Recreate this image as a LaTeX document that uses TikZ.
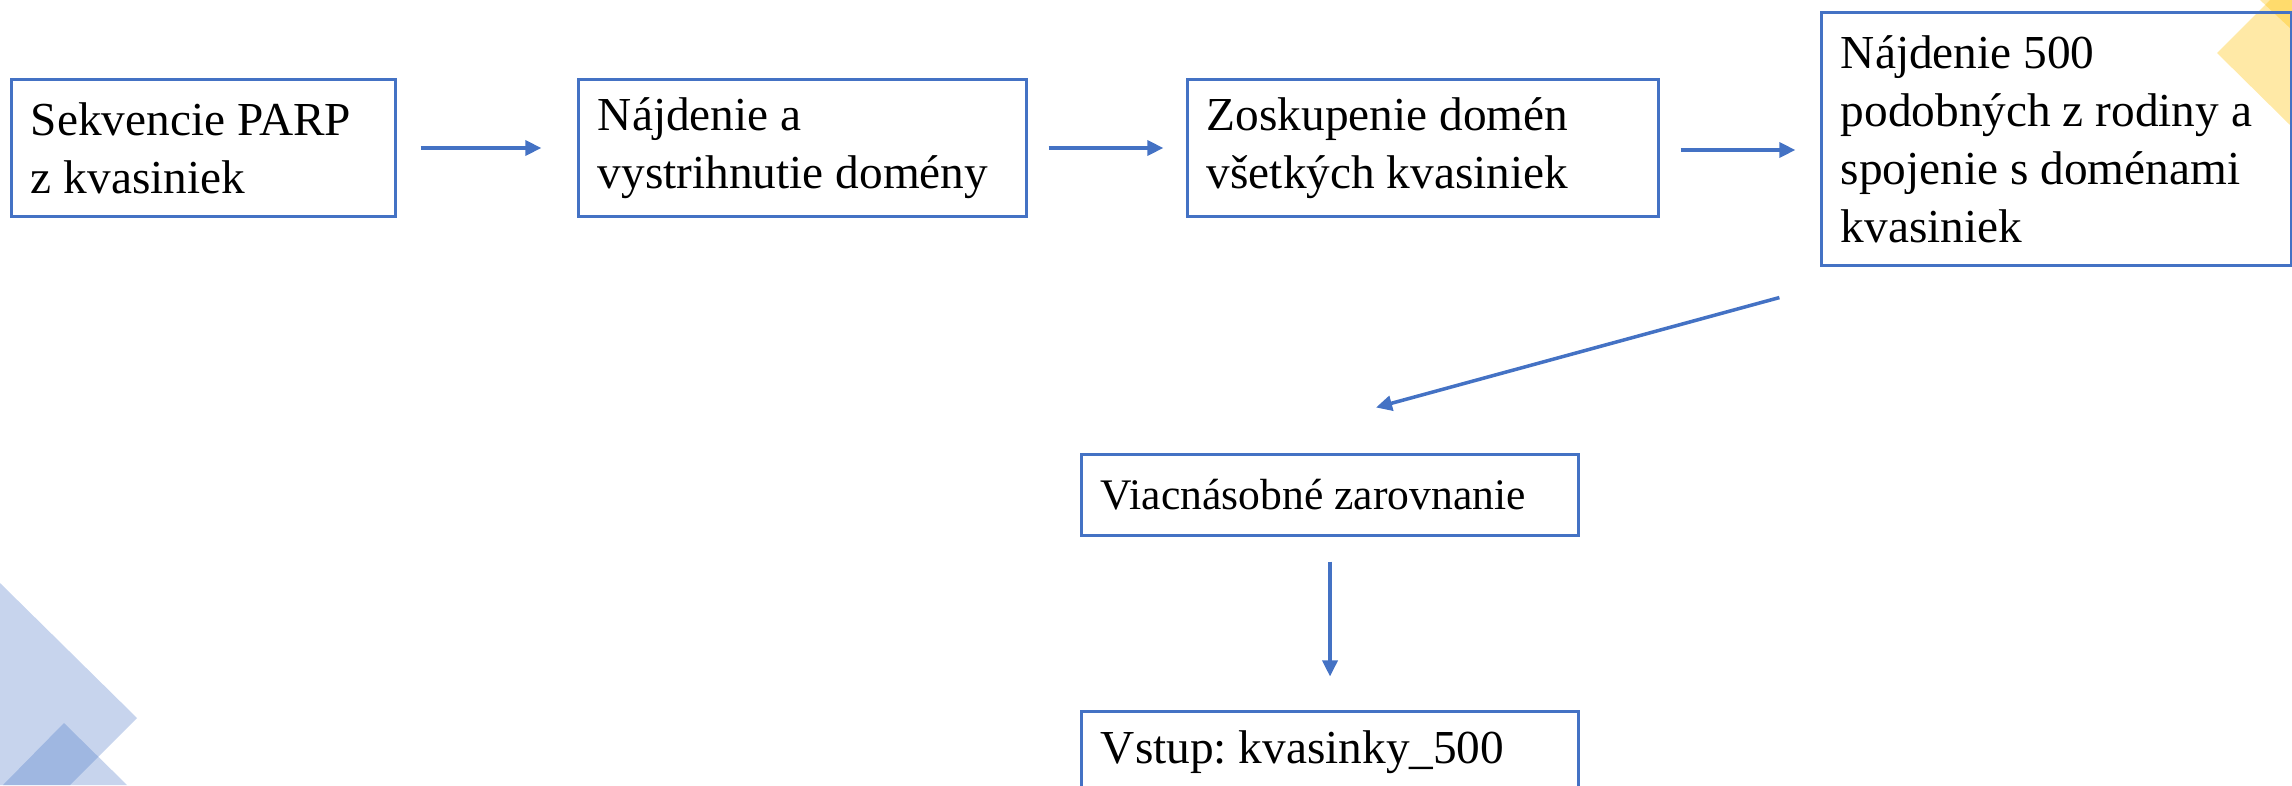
\documentclass[tikz,border=0pt]{standalone}
\usepackage{fontspec}
\setmainfont{Liberation Serif}
\usepackage{tikz}
\usetikzlibrary{arrows.meta,positioning}
\definecolor{ublue}{HTML}{4472C4}
\definecolor{ugold}{HTML}{FFC000}
\frenchspacing
\tikzset{
  box/.style={draw=ublue, line width=0.85pt, align=flush left, inner xsep=0.19cm,
              inner ysep=0pt, font=\fontsize{13.45}{16.5}\selectfont},
  arrow/.style={-{Triangle[length=0.16cm,width=0.15cm]}, line width=1pt, draw=ublue},
  corner/.style={fill=ublue, fill opacity=0.3, draw=none},
  cornerw/.style={fill=ugold, fill opacity=0.35, draw=none}
}
\begin{document}
\begin{tikzpicture}[x=0.01cm,y=-0.01cm]
  \useasboundingbox (0,0) rectangle (2292,785);
  % corner decoration
  \fill[corner] (0,583) -- (137,718) -- (70,785) -- (0,785) -- cycle;
  \fill[corner] (64,723) -- (127,785) -- (3,785) -- cycle;
  \fill[cornerw] (2217,53) -- (2270,0) -- (2292,0) -- (2292,127) -- cycle;
  \fill[cornerw] (2260,0) -- (2292,0) -- (2292,30) -- cycle;

  % steps
  \node[box, text width=3.45cm, minimum height=1.36cm] (seq) at (203.5,148)
    {Sekvencie PARP\\z kvasiniek};
  \node[box, text width=4.09cm, minimum height=1.36cm] (cut) at (802.5,148)
    {Nájdenie a\\vystrihnutie domény};
  \node[box, text width=4.32cm, minimum height=1.36cm] (grp) at (1423,148)
    {Zoskupenie domén\\všetkých kvasiniek};
  \node[box, text width=4.31cm, minimum height=2.52cm] (fam) at (2056.5,139)
    {Nájdenie 500\\podobných z rodiny a\\spojenie s doménami\\kvasiniek};
  \node[box, text width=4.58cm, minimum height=0.80cm,
        font=\fontsize{12.4}{16.5}\selectfont] (msa) at (1330,495)
    {Viacnásobné zarovnanie};
  \node[box, text width=4.58cm, minimum height=0.80cm] (inp) at (1330,752)
    {Vstup: kvasinky\_500};

  % arrows
  \draw[arrow, shorten <=0.24cm, shorten >=0.36cm] (seq.east) -- (cut.west);
  \draw[arrow, shorten <=0.21cm, shorten >=0.23cm] (cut.east) -- (grp.west);
  \draw[arrow, shorten <=0.21cm, shorten >=0.25cm] ([yshift=-0.02cm]grp.east) -- ([yshift=-0.02cm]grp.east -| fam.west);
  \draw[arrow] ([shift={(-41,31)}]fam.south west) -- ([shift={(46,-46)}]msa.north);
  \draw[arrow, shorten <=0.25cm, shorten >=0.34cm] (msa.south) -- (inp.north);
\end{tikzpicture}
\end{document}
